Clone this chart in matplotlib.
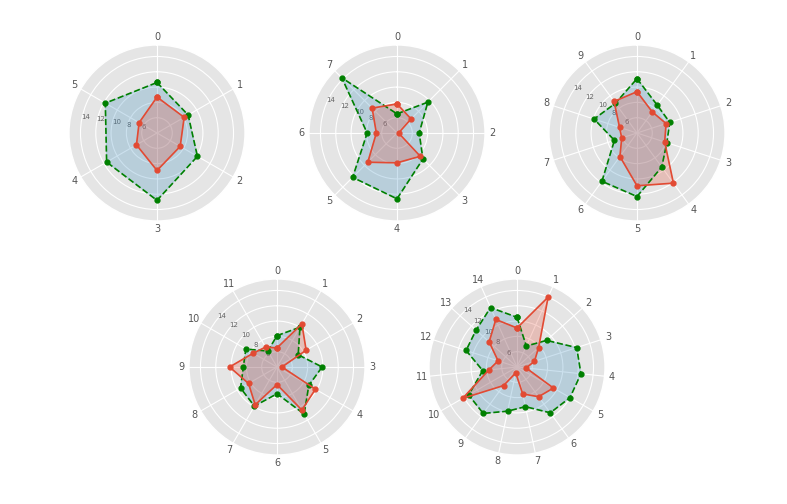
import numpy as np
import matplotlib
matplotlib.use('Agg')
import matplotlib.pyplot as plt

plt.style.use('ggplot')

# radar values, one pair of series per panel
green_6 = [10.6, 8.7, 10.1, 12.8, 11.6, 11.8]
red_6 = [8.7, 8.1, 7.5, 8.9, 7.1, 6.7]

green_8 = [6.5, 9.7, 6.9, 8.8, 12.6, 12.2, 7.9, 14.2]
red_8 = [7.8, 6.6, 4.2, 8.3, 7.9, 9.4, 6.7, 8.6]

green_10 = [11.1, 8.5, 8.5, 8.1, 9.5, 12.3, 11.8, 7.1, 9.9, 8.8]
red_10 = [9.4, 7.4, 8.0, 7.8, 12.1, 10.9, 7.8, 6.1, 6.4, 9.1]

green_12 = [8.1, 10.0, 7.2, 9.9, 8.8, 11.1, 7.5, 9.9, 9.5, 8.4, 8.7, 6.4]
red_12 = [6.5, 10.5, 8.4, 4.65, 9.8, 10.5, 6.3, 9.7, 8.3, 10.2, 7.6, 7.0]

green_15 = [10.5, 7.0, 9.2, 12.2, 12.4, 12.0, 11.4, 9.3, 9.9, 11.5, 11.3,
            8.5, 11.0, 11.2, 12.5]
red_15 = [9.1, 14.0, 7.8, 6.4, 5.2, 9.5, 8.8, 7.6, 4.8, 7.0, 12.2, 7.7,
          6.6, 8.9, 10.8]

r_ticks = [6, 8, 10, 12, 14]

panels = [(green_6, red_6), (green_8, red_8), (green_10, red_10),
          (green_12, red_12), (green_15, red_15)]

# axes placement (centre x, centre y in pixels) and radial label angle
W, H = 787, 504
centres = [(157, 133), (397, 133), (637, 133), (277, 367), (517, 367)]
label_pos = [280, 293, 303, 309, 315]
size = 176

fig = plt.figure(figsize=(W / 100, H / 100), dpi=100)

for (green, red), (cx, cy), lp in zip(panels, centres, label_pos):
    rect = [(cx - size / 2) / W, 1 - (cy + size / 2) / H, size / W, size / H]
    ax = fig.add_axes(rect, polar=True)
    ax.set_theta_offset(np.pi / 2)
    ax.set_theta_direction(-1)

    n = len(green)
    angles = np.linspace(0, 2 * np.pi, n, endpoint=False)
    a = np.append(angles, angles[0])
    g = np.append(green, green[0])
    r = np.append(red, red[0])

    ax.plot(a, g, color='green', linestyle='--', linewidth=1.2,
            marker='o', markersize=3.5)
    ax.fill(a, g, color='#348ABD', alpha=0.25)
    ax.plot(a, r, color='#E24A33', linewidth=1.2, marker='o', markersize=3.5)
    ax.fill(a, r, color='#E24A33', alpha=0.25)

    ax.set_xticks(angles)
    ax.set_xticklabels([str(i) for i in range(n)], fontsize=7,
                       color='#555555')
    ax.set_ylim(4, 15.5)
    ax.set_yticks(r_ticks)
    ax.set_yticklabels([str(t) for t in r_ticks], fontsize=5,
                       color='#666666')
    ax.set_rlabel_position(lp)
    ax.tick_params(axis='x', pad=-5)

fig.savefig('out.png', dpi=100)
